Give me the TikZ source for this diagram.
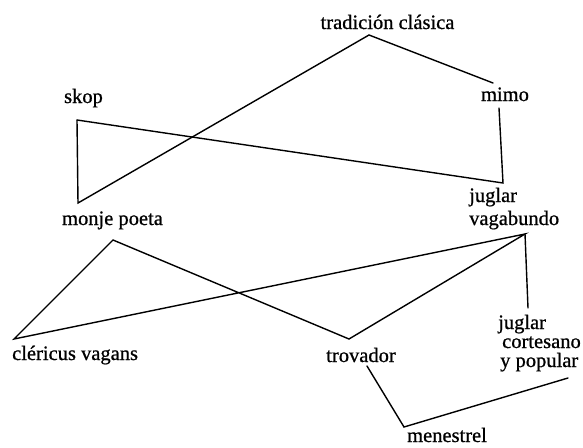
\documentclass[tikz,border=0pt]{standalone}
\usepackage{fontspec}
\setmainfont{Liberation Serif}[FakeBold=0.8]
\begin{document}
\begin{tikzpicture}[x=1pt,y=-1pt,
  lbl/.style={inner sep=0pt, anchor=base, font=\fontsize{20.5}{22}\selectfont},
  lblw/.style={lbl, anchor=base west},
  conn/.style={line width=1.4pt, line join=miter, line cap=round}]
\useasboundingbox (0,0) rectangle (583,447);
% labels
\node[lbl] (trad) at (387.5,29) {tradición clásica};
\node[lbl] (skop) at (83.5,103) {skop};
\node[lbl] (mimo) at (505,101) {mimo};
\node[lbl] (monje) at (112.5,225) {monje poeta};
\node[lblw] (jv1) at (469,202) {juglar};
\node[lblw] (jv2) at (469,225) {vagabundo};
\node[lblw] (cler) at (12,360) {cléricus vagans};
\node[lbl] (trov) at (361,362) {trovador};
\node[lblw] (jc1) at (498,329) {juglar};
\node[lblw] (jc2) at (502,348) {cortesano};
\node[lblw] (jc3) at (500,367) {y popular};
\node[lblw] (men) at (407,442) {menestrel};
% connector vertices
\coordinate (skopV) at (77,120);
\coordinate (monjeV) at (78,203);
\coordinate (tradV) at (369,35);
\coordinate (mimoL) at (493,83);
\coordinate (mimoB) at (499,108);
\coordinate (vagT) at (503,183);
\coordinate (monjeB) at (113,240);
\coordinate (clerV) at (14,339);
\coordinate (trovV) at (349,339);
\coordinate (vagB) at (525,234);
\coordinate (cortT) at (528,308);
\coordinate (trovB) at (367,366);
\coordinate (menV) at (404,427);
\coordinate (cortR) at (568,378);
% connectors
\draw[conn] (skopV) -- (monjeV) -- (tradV) -- (mimoL);
\draw[conn] (skopV) -- (vagT) -- (mimoB);
\draw[conn] (clerV) -- (monjeB) -- (trovV) -- (vagB) -- cycle;
\draw[conn] (vagB) -- (cortT);
\draw[conn] (trovB) -- (menV) -- (cortR);
\end{tikzpicture}
\end{document}
